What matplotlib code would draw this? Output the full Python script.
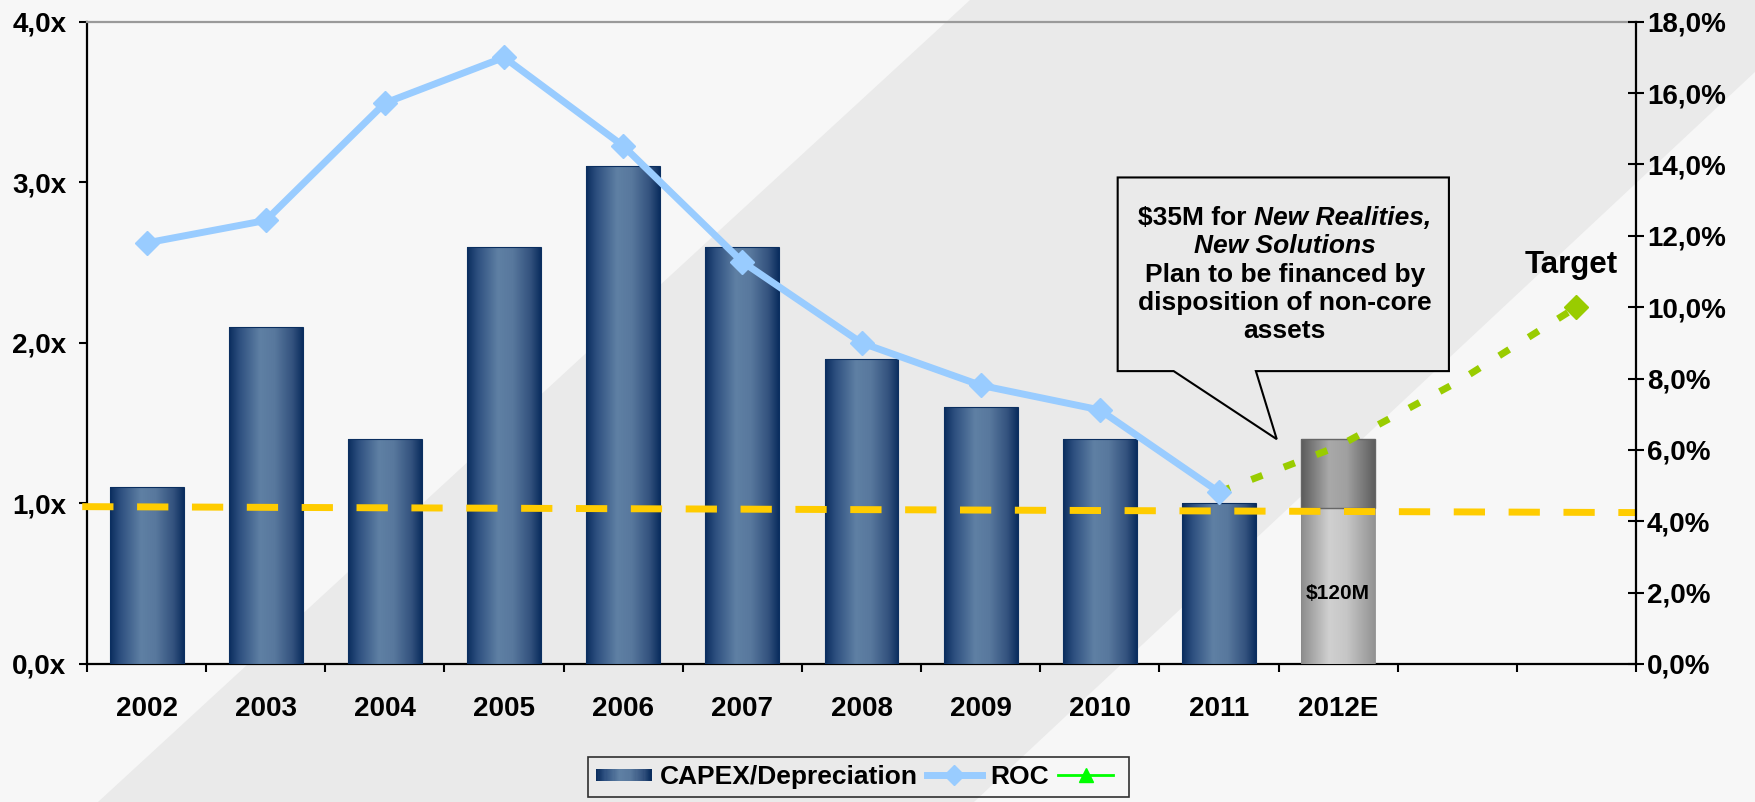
import numpy as np
import matplotlib
matplotlib.use("Agg")
import matplotlib.pyplot as plt
from matplotlib.patches import Polygon, Rectangle
from matplotlib.lines import Line2D
from matplotlib.legend_handler import HandlerBase
from matplotlib.colors import LinearSegmentedColormap
from matplotlib.ticker import FixedLocator, FuncFormatter, NullFormatter
from matplotlib.transforms import offset_copy

plt.rcParams['font.family'] = ['Liberation Sans', 'DejaVu Sans']
plt.rcParams['font.weight'] = 'bold'

# ---------------- data ----------------
categories = ['2002', '2003', '2004', '2005', '2006', '2007', '2008',
              '2009', '2010', '2011', '2012E', '', '']
capex_ratio = [1.10, 2.10, 1.40, 2.60, 3.10, 2.60, 1.90, 1.60, 1.40, 1.00]
capex_2012_base = 0.97          # funded part of the 2012E budget
capex_2012_plan = 0.43          # New Realities, New Solutions plan
roc = [11.80, 12.43, 15.72, 17.00, 14.52, 11.27, 9.00, 7.81, 7.12, 4.82]
roc_path_x = [9, 10, 11, 12]
roc_path = [4.82, 6.10, 7.90, 10.00]
hurdle_x = [-0.54, 12.5]
hurdle = [0.98, 0.943]
left_ticks = [0, 1, 2, 3, 4]
right_ticks = [0, 2, 4, 6, 8, 10, 12, 14, 16, 18]

W, H = 1756, 802
BAND = '#eaeaea'

fig = plt.figure(figsize=(W / 100, H / 100), dpi=100, facecolor='#f7f7f7')

# diagonal shaded band behind the chart
band = Polygon([(970 / W, 1), (1832 / W, 1), (974 / W, 0), (98 / W, 0)],
               closed=True, transform=fig.transFigure, facecolor=BAND,
               edgecolor='none', zorder=-5)
fig.add_artist(band)

ax = fig.add_axes([87 / W, 1 - 664 / H, (1636 - 87) / W, (664 - 21.7) / H])
ax.patch.set_visible(False)

navy = LinearSegmentedColormap.from_list('navy', [
    (0.00, '#0a2d5e'), (0.14, '#2d4f7f'), (0.42, '#5f80a4'),
    (0.62, '#58789d'), (0.86, '#33527e'), (1.00, '#0a2d5e')])
grey_low = LinearSegmentedColormap.from_list('grey_low', [
    (0.00, '#8c8c8c'), (0.38, '#d0d0d0'), (0.62, '#c6c6c6'), (1.00, '#939393')])
grey_high = LinearSegmentedColormap.from_list('grey_high', [
    (0.00, '#5a5a5a'), (0.38, '#a9a9a9'), (0.62, '#a0a0a0'), (1.00, '#5e5e5e')])


def gradient_fill(axis, patch, cmap, zorder=3):
    x0, y0 = patch.get_x(), patch.get_y()
    w, h = patch.get_width(), patch.get_height()
    grad = np.linspace(0, 1, 256).reshape(1, -1)
    im = axis.imshow(grad, cmap=cmap, extent=[x0, x0 + w, y0, y0 + h],
                     aspect='auto', interpolation='bilinear', origin='lower',
                     zorder=zorder)
    im.set_clip_path(patch)


xpos = np.arange(len(capex_ratio))
bars = ax.bar(xpos, capex_ratio, width=0.62, facecolor='none',
              edgecolor='#0b2f60', linewidth=0.8, zorder=3.5)
for b in bars:
    gradient_fill(ax, b, navy)

low = ax.bar([10], [capex_2012_base], width=0.62, facecolor='none',
             edgecolor='#8a8a8a', linewidth=0.6, zorder=3.5)
high = ax.bar([10], [capex_2012_plan], bottom=[capex_2012_base], width=0.62,
              facecolor='none', edgecolor='#666666', linewidth=1.0, zorder=3.5)
gradient_fill(ax, low[0], grey_low)
gradient_fill(ax, high[0], grey_high)
ax.text(10, capex_2012_base * 0.455, '$120M', ha='center', va='center',
        fontsize=15, fontweight='bold', zorder=6)

# reference line around 1.0x
ax.plot(hurdle_x, hurdle, color='#ffcc00', lw=5, dashes=(4.5, 3.4),
        dash_capstyle='butt', solid_capstyle='butt', clip_on=False, zorder=5)

ax.set_xlim(-0.5, 12.5)
ax.set_ylim(0, 4)

# category axis: ticks on boundaries, labels in the middle
ax.xaxis.set_major_locator(FixedLocator(np.arange(-0.5, 13, 1)))
ax.xaxis.set_major_formatter(NullFormatter())
ax.xaxis.set_minor_locator(FixedLocator(np.arange(len(categories))))
ax.set_xticklabels(categories, minor=True)
ax.tick_params(axis='x', which='major', direction='out', length=6, width=1.5,
               color='black')
ax.tick_params(axis='x', which='minor', length=0, pad=23, labelsize=20)

ax.yaxis.set_major_locator(FixedLocator(left_ticks))
ax.yaxis.set_major_formatter(FuncFormatter(lambda v, p: f"{v:.1f}x".replace('.', ',')))
ax.tick_params(axis='y', direction='out', length=6, width=1.5, pad=9,
               labelsize=20)
for lab in ax.get_xticklabels(minor=True) + ax.get_yticklabels():
    lab.set_fontweight('bold')

ax.spines['left'].set_linewidth(1.6)
ax.spines['bottom'].set_linewidth(1.6)
ax.spines['top'].set_color('#9a9a9a')
ax.spines['top'].set_linewidth(1.6)
ax.spines['right'].set_visible(False)

# secondary axis: return on capital
ax2 = ax.twinx()
ax2.patch.set_visible(False)
ax2.set_ylim(0, 18)
ax2.plot(roc_path_x, roc_path, color='#99cc00', lw=5, dashes=(1.7, 3.3),
         dash_capstyle='butt', zorder=3)
ax2.plot([roc_path_x[-1]], [roc_path[-1]], linestyle='none', marker='D',
         ms=12.5, color='#99cc00', zorder=3)
ax2.plot(xpos, roc, color='#99ccff', lw=5, marker='D', ms=12.5,
         mec='#99ccff', mfc='#99ccff', zorder=4)
ax2.yaxis.set_major_locator(FixedLocator(right_ticks))
ax2.yaxis.set_major_formatter(FuncFormatter(lambda v, p: f"{v:.1f}%".replace('.', ',')))
ax2.tick_params(axis='y', direction='inout', length=12, width=1.5, pad=2,
                labelsize=20)
for lab in ax2.get_yticklabels():
    lab.set_fontweight('bold')
for s in ('left', 'top', 'bottom'):
    ax2.spines[s].set_visible(False)
ax2.spines['right'].set_linewidth(1.6)

ax2.annotate('Target', xy=(roc_path_x[-1], roc_path[-1]), xytext=(-4, 24.5),
             textcoords='offset points', ha='center', va='baseline',
             fontsize=22.5, fontweight='bold')

# call-out box pointing at the 2012E bar
callout = Polygon([(8.15, 3.03), (10.93, 3.03), (10.93, 1.824), (9.31, 1.824),
                   (9.485, 1.40), (8.62, 1.824), (8.15, 1.824)], closed=True,
                  facecolor=BAND, edgecolor='black', linewidth=1.5,
                  zorder=8, clip_on=False)
ax.add_patch(callout)

renderer = fig.canvas.get_renderer()
FS = 19


def text_width(s, **kw):
    t = fig.text(0, 0, s, fontsize=FS, fontweight='bold', **kw)
    w = t.get_window_extent(renderer).width
    t.remove()
    return w


cx = 9.552
baselines = [2.733, 2.557, 2.381, 2.204, 2.028]
part_a, part_b = '$35M for', 'New Realities,'
wa = text_width(part_a)
wsp = text_width('a a') - text_width('aa')
wb = text_width(part_b, fontstyle='italic')
total = wa + wsp + wb
ax.text(cx, baselines[0], part_a, fontsize=FS, fontweight='bold', ha='left',
        va='baseline', zorder=9,
        transform=offset_copy(ax.transData, fig=fig, x=-total / 2, y=0, units='dots'))
ax.text(cx, baselines[0], part_b, fontsize=FS, fontweight='bold',
        fontstyle='italic', ha='left', va='baseline', zorder=9,
        transform=offset_copy(ax.transData, fig=fig, x=-total / 2 + wa + wsp, y=0,
                              units='dots'))
ax.text(cx, baselines[1], 'New Solutions', fontsize=FS, fontweight='bold',
        fontstyle='italic', ha='center', va='baseline', zorder=9)
for line, yb in zip(['Plan to be financed by', 'disposition of non-core', 'assets'],
                    baselines[2:]):
    ax.text(cx, yb, line, fontsize=FS, fontweight='bold', ha='center',
            va='baseline', zorder=9)


# legend with a shaded swatch for the bar series
class GradientSwatch:
    def __init__(self, cmap):
        self.cmap = cmap


class GradientHandler(HandlerBase):
    def legend_artist(self, legend, orig_handle, fontsize, handlebox):
        x0, y0 = handlebox.xdescent, handlebox.ydescent
        w, h = handlebox.width, handlebox.height
        hh = h * 0.62
        yb = y0 + (h - hh) / 2
        n = 48
        last = None
        for i in range(n):
            r = Rectangle((x0 + w * i / n, yb), w / n * 1.08, hh,
                          facecolor=orig_handle.cmap(i / (n - 1)),
                          edgecolor='none', transform=handlebox.get_transform())
            handlebox.add_artist(r)
            last = r
        return last


h_bar = GradientSwatch(navy)
h_roc = Line2D([], [], color='#99ccff', lw=5, marker='D', ms=10)
h_tgt = Line2D([], [], color='#00ff00', lw=2, marker='^', ms=10)
leg = fig.legend([h_bar, h_roc, h_tgt], ['CAPEX/Depreciation', 'ROC', ''],
                 handler_map={GradientSwatch: GradientHandler()},
                 loc='center', bbox_to_anchor=(0.489, 0.031), ncol=3,
                 prop={'size': 19, 'weight': 'bold'}, frameon=True,
                 fancybox=False, borderpad=0.3, handlelength=2.1,
                 handletextpad=0.3, columnspacing=0.35, borderaxespad=0)
frame = leg.get_frame()
frame.set_edgecolor('black')
frame.set_facecolor('none')
frame.set_linewidth(1.2)

fig.savefig('out.png', dpi=100, facecolor=fig.get_facecolor())
